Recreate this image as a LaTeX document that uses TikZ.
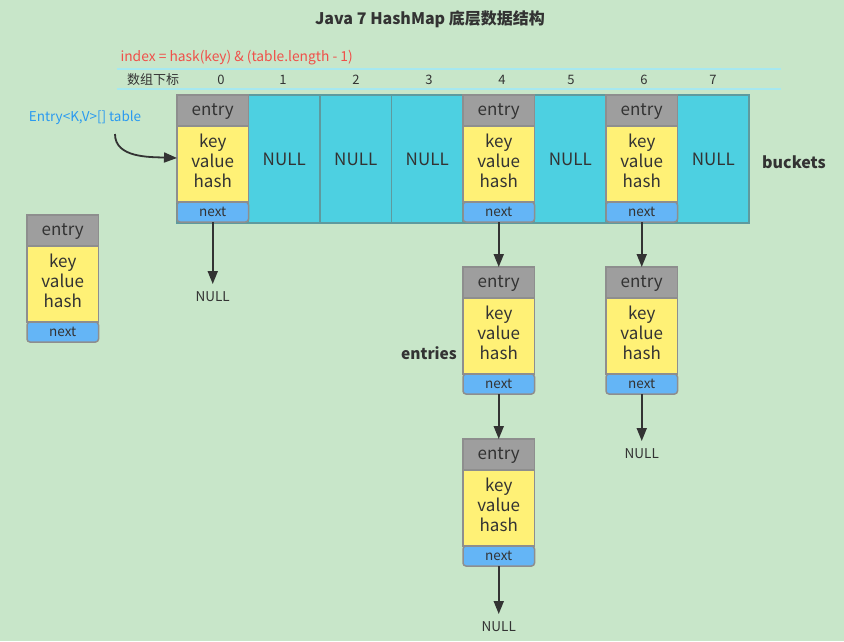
\documentclass[tikz,border=0pt]{standalone}
\usepackage{fontspec}
\setmainfont{Noto Sans CJK SC}
\usetikzlibrary{positioning,arrows.meta}

\definecolor{bggreen}{HTML}{C8E6C9}
\definecolor{hdrgray}{HTML}{9E9E9E}
\definecolor{bodyyellow}{HTML}{FFF176}
\definecolor{nextblue}{HTML}{64B5F6}
\definecolor{cellcyan}{HTML}{4DD0E1}
\definecolor{celledge}{HTML}{5E9A9E}
\definecolor{edgegray}{HTML}{8E8E8E}
\definecolor{txtdark}{HTML}{333333}
\definecolor{idxred}{HTML}{F0504A}
\definecolor{lblblue}{HTML}{2A9AF0}
\definecolor{rulecyan}{HTML}{A6E8F0}

\tikzset{
  hdrbox/.style={draw=edgegray, fill=hdrgray, line width=1.5pt, anchor=north west,
    minimum width=71.5pt, minimum height=31pt, inner sep=0pt, outer sep=0pt,
    text height=12pt, text depth=2pt,
    text=txtdark, font=\fontsize{17}{20}\selectfont},
  bodybox/.style={draw=edgegray, fill=bodyyellow, line width=1.5pt,
    minimum width=71.5pt, minimum height=76pt, inner sep=0pt, outer sep=0pt,
    align=center, text=txtdark, font=\fontsize{17}{20}\selectfont},
  nextbox/.style={draw=edgegray, fill=nextblue, line width=1.5pt, rounded corners=3pt,
    minimum width=71.5pt, minimum height=20pt, inner sep=0pt, outer sep=0pt,
    text=txtdark, font=\fontsize{13.5}{16}\selectfont},
  cellbox/.style={draw=celledge, fill=cellcyan, line width=1.2pt, anchor=north west,
    minimum width=71.5pt, minimum height=128pt, inner sep=0pt, outer sep=0pt},
  nulltxt/.style={text=txtdark, font=\fontsize{17}{20}\selectfont},
  nullsmall/.style={text=txtdark, font=\fontsize{13.5}{16}\selectfont},
  idxtxt/.style={text=txtdark, font=\fontsize{13}{16}\selectfont},
  boldtxt/.style={text=txtdark, font=\fontsize{16}{20}\selectfont\bfseries},
  arr/.style={draw=txtdark, line width=1.8pt, -{Triangle[width=10pt,length=13pt]}, shorten >=4pt},
}

% one entry: header, fields, next pointer
\newcommand\entrycard[2]{%
  \node[hdrbox] (#1h) at #2 {entry};
  \node[bodybox, below=0pt of #1h] (#1b) {key\\value\\hash\rule[-6pt]{0pt}{6pt}};
  \node[nextbox, below=0pt of #1b] (#1n) {next};
}

\begin{document}
\begin{tikzpicture}[x=1pt, y=-1pt]
  \fill[bggreen] (0,0) rectangle (844,641);
  \useasboundingbox (0,0) rectangle (844,641);

  \node[boldtxt] (title) at (430,19) {Java 7 HashMap 底层数据结构};

  % index row
  \node[anchor=west, text=idxred, font=\fontsize{13.8}{16}\selectfont] (formula) at (117,58) {index = hask(key) \& (table.length - 1)};
  \draw[rulecyan, line width=1.5pt] (117,69) -- (781,69);
  \draw[rulecyan, line width=1.5pt] (117,89) -- (781,89);
  \node[idxtxt] (idxhead) at (153,80) {数组下标};
  \foreach \i/\x in {0/221,1/283,2/356,3/429,4/502,5/571,6/644,7/713}
    \node[idxtxt] (idx\i) at (\x,80) {\i};

  % buckets
  \foreach \i in {0,...,7}
    \node[cellbox] (c\i) at ({177+71.5*\i},95) {};
  \foreach \i in {1,2,3,5,7}
    \node[nulltxt] (n\i) at (c\i) {NULL};
  \node[boldtxt] (buckets) at (794,162) {buckets};

  \entrycard{b0}{(c0.north west)}
  \entrycard{b4}{(c4.north west)}
  \entrycard{b6}{(c6.north west)}

  % table reference
  \node[text=lblblue, font=\fontsize{13.5}{16}\selectfont] (table) at (85,118) {Entry<K,V>[] table};
  \coordinate (tstart) at (115,134);
  \draw[arr, shorten >=0pt] (tstart) .. controls (115,158) and (150,157) .. ([yshift=6pt]b0b.west);

  % loose entry
  \entrycard{free}{(27,215)}

  % chains
  \entrycard{b4a}{([yshift=-45pt]b4n.south west)}
  \entrycard{b4b}{([yshift=-45pt]b4an.south west)}
  \entrycard{b6a}{([yshift=-45pt]b6n.south west)}
  \node[boldtxt, font=\fontsize{15.5}{18}\selectfont\bfseries] (entries) at (429,353) {entries};

  \node[nullsmall, below=66pt of b0n] (end0) {NULL};
  \node[nullsmall, below=51pt of b6an] (end6) {NULL};
  \node[nullsmall, below=52pt of b4bn] (end4) {NULL};

  \draw[arr] (b0n.south) -- (end0.north);
  \draw[arr, shorten >=0pt] (b4n.south) -- (b4ah.north);
  \draw[arr, shorten >=0pt] (b4an.south) -- (b4bh.north);
  \draw[arr] (b4bn.south) -- (end4.north);
  \draw[arr, shorten >=0pt] (b6n.south) -- (b6ah.north);
  \draw[arr] (b6an.south) -- (end6.north);
\end{tikzpicture}
\end{document}
